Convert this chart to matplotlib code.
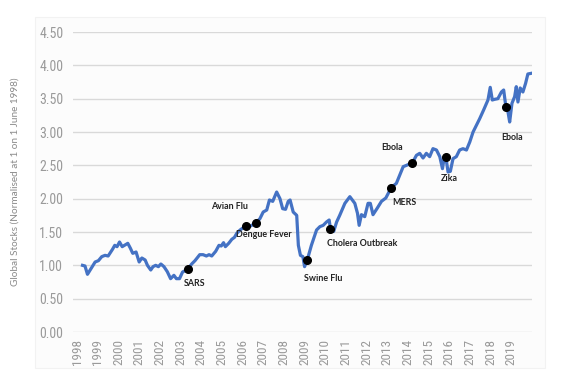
import matplotlib
matplotlib.use("Agg")
import matplotlib.pyplot as plt
from matplotlib.patches import Rectangle

# global stocks index (year fraction, level)
years = [1998.26, 1998.38, 1998.50, 1998.63, 1998.87, 1999.03, 1999.19, 1999.35, 1999.50,
         1999.71, 1999.82, 1999.93, 2000.05, 2000.18, 2000.34, 2000.45, 2000.57, 2000.69,
         2000.85, 2001.00, 2001.13, 2001.29, 2001.40, 2001.56, 2001.67, 2001.80, 2001.93,
         2002.05, 2002.20, 2002.36, 2002.52, 2002.68, 2002.80, 2002.95, 2003.10, 2003.35,
         2003.54, 2003.70, 2003.93, 2004.09, 2004.25, 2004.38, 2004.51, 2004.70, 2004.86,
         2004.97, 2005.08, 2005.17, 2005.33, 2005.48, 2005.61, 2005.72, 2005.88, 2006.15,
         2006.32, 2006.63, 2006.84, 2007.00, 2007.17, 2007.30, 2007.46, 2007.65, 2007.81,
         2007.94, 2008.08, 2008.21, 2008.30, 2008.45, 2008.62, 2008.70, 2008.80, 2008.92,
         2009.00, 2009.13, 2009.33, 2009.58, 2009.74, 2009.90, 2010.06, 2010.19, 2010.25,
         2010.41, 2010.55, 2010.70, 2010.95, 2011.19, 2011.43, 2011.56, 2011.64, 2011.75,
         2011.91, 2012.07, 2012.18, 2012.31, 2012.50, 2012.72, 2012.93, 2013.19, 2013.44,
         2013.60, 2013.77, 2013.93, 2014.22, 2014.41, 2014.57, 2014.73, 2014.89, 2015.05,
         2015.21, 2015.38, 2015.54, 2015.67, 2015.76, 2015.83, 2015.94, 2016.05, 2016.18,
         2016.34, 2016.50, 2016.66, 2016.83, 2016.99, 2017.15, 2017.31, 2017.47, 2017.66,
         2017.87, 2017.98, 2018.08, 2018.19, 2018.35, 2018.52, 2018.63, 2018.74, 2018.84,
         2018.92, 2019.03, 2019.16, 2019.24, 2019.32, 2019.43, 2019.56, 2019.69, 2019.80,
         2019.96]
stocks = [1.00, 0.99, 0.865, 0.93, 1.05, 1.07, 1.13, 1.15, 1.14,
          1.24, 1.30, 1.28, 1.35, 1.28, 1.31, 1.33, 1.26, 1.18,
          1.20, 1.05, 1.11, 1.08, 1.00, 0.93, 0.98, 1.00, 0.98,
          1.02, 0.98, 0.905, 0.80, 0.85, 0.80, 0.80, 0.90, 0.94,
          1.02, 1.07, 1.16, 1.16, 1.14, 1.16, 1.14, 1.21, 1.30,
          1.29, 1.34, 1.28, 1.33, 1.39, 1.42, 1.48, 1.53, 1.59,
          1.58, 1.63, 1.70, 1.80, 1.83, 1.98, 1.96, 2.10, 2.00,
          1.85, 1.84, 1.96, 1.98, 1.80, 1.75, 1.30, 1.15, 1.13,
          0.98, 1.08, 1.30, 1.53, 1.58, 1.60, 1.65, 1.68, 1.55,
          1.51, 1.65, 1.75, 1.93, 2.03, 1.93, 1.78, 1.60, 1.76,
          1.73, 1.93, 1.93, 1.76, 1.85, 1.96, 2.01, 2.165, 2.23,
          2.35, 2.48, 2.50, 2.54, 2.65, 2.68, 2.61, 2.68, 2.63,
          2.75, 2.73, 2.63, 2.45, 2.63, 2.63, 2.40, 2.41, 2.60,
          2.63, 2.73, 2.75, 2.73, 2.85, 3.00, 3.10, 3.20, 3.33,
          3.48, 3.67, 3.48, 3.49, 3.50, 3.60, 3.63, 3.37, 3.30,
          3.15, 3.43, 3.53, 3.68, 3.45, 3.66, 3.60, 3.73, 3.87,
          3.88]

# outbreaks: marker position and label position
events = ["SARS", "Avian Flu", "Dengue Fever", "Swine Flu", "Cholera Outbreak",
          "MERS", "Ebola", "Zika", "Ebola"]
event_x = [2003.35, 2006.15, 2006.63, 2009.13, 2010.25, 2013.19, 2014.22, 2015.83, 2018.74]
event_y = [0.94, 1.59, 1.63, 1.08, 1.55, 2.165, 2.54, 2.63, 3.37]
label_x = [2003.7, 2005.39, 2007.03, 2009.9, 2011.8, 2013.85, 2013.22, 2015.99, 2019.05]
label_y = [0.72, 1.88, 1.46, 0.80, 1.335, 1.95, 2.77, 2.30, 2.92]

tick_years = list(range(1998, 2020))
grey = "#9a9a9a"
narrow = ["Roboto Condensed", "Arial Narrow", "Liberation Sans Narrow",
          "PT Sans Narrow", "Archivo Narrow", "DejaVu Sans"]
note_font = ["Lato", "Open Sans", "DejaVu Sans"]

fig = plt.figure(figsize=(5.64, 3.72), dpi=100)
fig.patches.append(Rectangle((35 / 564, 4 / 372), 510 / 564, 351 / 372,
                             transform=fig.transFigure, facecolor="#fcfcfc",
                             edgecolor="#f2f2f2", linewidth=0.8, zorder=-5))
ax = fig.add_axes([73 / 564, 40 / 372, 459 / 564, 300 / 372])
ax.set_facecolor("none")

ax.plot(years, stocks, color="#4472C4", linewidth=2.3, zorder=3)
ax.plot(event_x, event_y, "o", color="black", markersize=5.5, zorder=4)
for name, lx, ly in zip(events, label_x, label_y):
    ax.text(lx, ly, name, ha="center", va="center", fontsize=6.4, fontweight="bold",
            family=note_font, color="#222222", zorder=5)

ax.set_xlim(1997.8, 2020.0)
ax.set_ylim(0, 4.5)
ax.set_yticks([i * 0.5 for i in range(10)])
ax.set_yticklabels(["%.2f" % (i * 0.5) for i in range(10)], family=narrow,
                   fontsize=10, color=grey)
ax.set_xticks(tick_years)
ax.set_xticklabels([str(y) for y in tick_years], rotation=90, family=narrow,
                   fontsize=9.5, color=grey)
ax.tick_params(axis="x", length=0, pad=5)
ax.tick_params(axis="y", length=0, pad=7)
ax.grid(axis="y", color="#d9d9d9", linewidth=1)
ax.set_axisbelow(True)
for s in ax.spines.values():
    s.set_visible(False)

ax.set_ylabel("Global Stocks (Normalised at 1 on 1 June 1998)", fontsize=7.2,
              family=note_font, color="#8a8a8a", labelpad=14)

fig.savefig("out.png", dpi=100)
